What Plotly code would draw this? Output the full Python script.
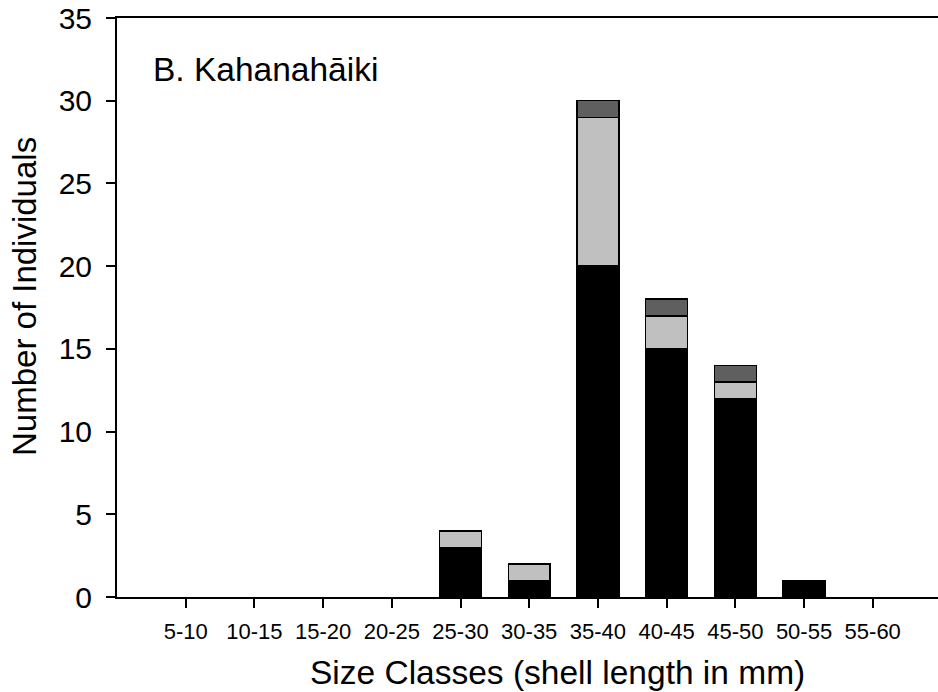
import plotly.graph_objects as go

categories = ["5-10", "10-15", "15-20", "20-25", "25-30", "30-35",
              "35-40", "40-45", "45-50", "50-55", "55-60"]
black_vals = [0, 0, 0, 0, 3, 1, 20, 15, 12, 1, 0]
light_vals = [0, 0, 0, 0, 1, 1, 9, 2, 1, 0, 0]
dark_vals = [0, 0, 0, 0, 0, 0, 1, 1, 1, 0, 0]
y_ticks = [0, 5, 10, 15, 20, 25, 30, 35]

FONT = "Liberation Sans, Arial, sans-serif"
xidx = list(range(len(categories)))

L, T, B = 117, 18, 95
PW, PH = 938 - L, 692 - T - B


def px_x(px):
    return (px - L) / PW


def px_y(py):
    return (692 - B - py) / PH


fig = go.Figure()
for vals, col in [(black_vals, "#000000"), (light_vals, "#c0c0c0"), (dark_vals, "#5f5f5f")]:
    fig.add_trace(go.Bar(
        x=xidx, y=[v if v else None for v in vals], width=0.61,
        marker=dict(color=col, line=dict(color="#000000", width=1.5)),
        showlegend=False,
    ))

fig.update_layout(
    barmode="stack",
    width=938, height=692,
    margin=dict(l=L, r=0, t=T, b=B, autoexpand=False),
    paper_bgcolor="white", plot_bgcolor="white",
    font=dict(family=FONT, color="black"),
    xaxis=dict(
        range=[-1, 10.95], automargin=False,
        tickmode="array", tickvals=xidx, ticktext=categories,
        ticks="outside", ticklen=9, tickwidth=1.5, tickcolor="black",
        tickfont=dict(size=22, family=FONT, color="black"),
        showline=True, linecolor="black", linewidth=2, mirror=True,
        showgrid=False, zeroline=False,
        ticklabelstandoff=5,
    ),
    yaxis=dict(
        range=[0, 35], automargin=False,
        tickmode="array", tickvals=y_ticks,
        ticks="outside", ticklen=9, tickwidth=1.5, tickcolor="black",
        tickfont=dict(size=30, family=FONT, color="black"),
        showline=True, linecolor="black", linewidth=2,
        showgrid=False, zeroline=False,
        ticklabelstandoff=8,
    ),
    annotations=[
        dict(text="B. Kahanahāiki", xref="paper", yref="paper",
             x=px_x(151), y=px_y(70), xanchor="left", yanchor="middle",
             showarrow=False, font=dict(size=33.5, family=FONT, color="black")),
        dict(text="Size Classes (shell length in mm)", xref="paper", yref="paper",
             x=px_x(557), y=px_y(672), xanchor="center", yanchor="middle",
             showarrow=False, font=dict(size=33.5, family=FONT, color="black")),
        dict(text="Number of Individuals", xref="paper", yref="paper",
             x=px_x(24), y=px_y(297), xanchor="center", yanchor="middle",
             textangle=-90, showarrow=False,
             font=dict(size=33, family=FONT, color="black")),
    ],
)

fig.write_html(
    "out.html",
    config={"displayModeBar": False},
    post_script="document.body.style.margin='0';document.body.style.padding='0';"
                "document.documentElement.style.overflow='hidden';",
)
